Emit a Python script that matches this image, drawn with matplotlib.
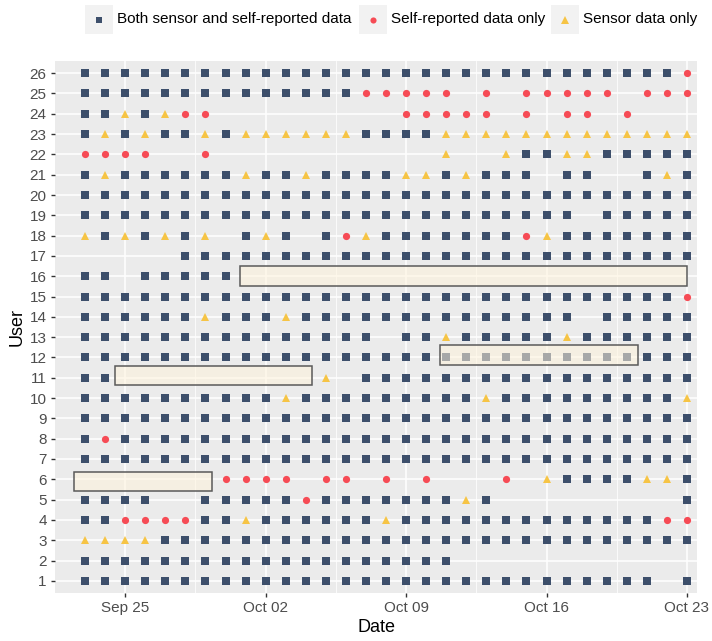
import numpy as np
import matplotlib
matplotlib.use('Agg')
import matplotlib.pyplot as plt
import matplotlib.dates as mdates
from matplotlib.patches import Rectangle

plt.rcParams['font.family'] = ['Liberation Sans', 'DejaVu Sans']

# ── Data ──────────────────────────────────────────────────────────────────────
START = np.datetime64('2017-09-23')
N_DAYS = 31
USERS = list(range(1, 27))

# one string per user (1..26), one character per day from Sep 23 to Oct 23
# S = both sensor and self-reported, R = self-reported only, T = sensor only
DAILY_STATUS = [
    'SSSSSSSSSSSSSSSSSSSSSSSSSSSSS.S',  # 1
    'SSSSSSSSSSSSSSSSSSS............',  # 2
    'TTTTSSSSSSSSSSSSSSSSSSSSSSSSSSS',  # 3
    'SSRRRRSSTSSSSSSTSSSSSSSSSSSSSRR',  # 4
    'SSSS..SSSSSRSSSSSSSTS.........S',  # 5
    '.......RRRR.RR.R.R...R.TSSSSTTS',  # 6
    'SSSSSSSSSSSSSSSSSSSSSSSSSSSSSSS',  # 7
    'SRSSSSSSSSSSSSSSSSSSSSSSSSSSSSS',  # 8
    'SSSSSSSSSSSSSSSSSSSSSSSSSSSSSSS',  # 9
    'SSSSSSSSSSTSSSSSSSSSTSSSSSSSSST',  # 10
    'SS..........T.SSSSSSSSSSSSSSSSS',  # 11
    'SSSSSSSSSSSSSSSSSSSSSSSSSSSSSSS',  # 12
    'SSSSSSSSSSSSSSS.SSTSSSSSTSSSSSS',  # 13
    'SSSSSSTSSSTSSSSSSSSSSSSSS.SSSSS',  # 14
    'SSSSSSSSSSSSSSSSSSSSSSSSSSSSSSR',  # 15
    'SS.SSSSS.......................',  # 16
    '.....SSSSSSSSSSSSSSSSSSSSSSSSSS',  # 17
    'TSTSTST.STS.SRTSSSSSSSRTSSSSSSS',  # 18
    'SSSSSSSSSSSSSSSSSSSSSSSSS.SSSSS',  # 19
    'SSSSSSSSSSSSSSSSSSSSSSSSSSSSSSS',  # 20
    'STSSSSSSTSSTSSSSTTSTSSS.SS..STS',  # 21
    'RRRR..R...........T..TSSTTSSSSS',  # 22
    'STSTSSTSTTTTTTSSSSTTTTTTTTTTTTT',  # 23
    'SSTSTRR.........RRRRR.R.RR.R...',  # 24
    'SSSSSSSSSSSSSSRRRRR.R.RRRRR.RRR',  # 25
    'SSSSSSSSSSSSSSSSSSSSSSSSSSSSSSR',  # 26
]

# highlighted periods (day offsets from START, user-axis extent)
BOX_START_DAY = [-0.55, 1.48, 17.69, 7.72]
BOX_END_DAY = [6.33, 11.30, 27.55, 30.00]
BOX_LOW = [5.41, 10.62, 11.62, 15.50]
BOX_HIGH = [6.36, 11.60, 12.60, 16.50]

LABELS = {
    'S': 'Both sensor and self-reported data',
    'R': 'Self-reported data only',
    'T': 'Sensor data only',
}

# ── Styles ────────────────────────────────────────────────────────────────────
STYLE = {
    'S': dict(marker='s', color='#3D4F6B', ms=5.4),
    'R': dict(marker='o', color='#F64B55', ms=5.2),
    'T': dict(marker='^', color='#F6C445', ms=6.2),
}
PANEL_BG = '#EBEBEB'
TEXT_DARK = '#4D4D4D'

dates = START + np.arange(N_DAYS).astype('timedelta64[D]')
x0 = mdates.date2num(START)

fig = plt.figure(figsize=(7.12, 6.41), dpi=100)
ax = fig.add_axes([55 / 712, 1 - 593 / 641, 642 / 712, 532 / 641])
ax.set_facecolor(PANEL_BG)
for spine in ax.spines.values():
    spine.set_visible(False)

for code, st in STYLE.items():
    xs, ys = [], []
    for user, row in zip(USERS, DAILY_STATUS):
        for d, c in zip(dates, row):
            if c == code:
                xs.append(d)
                ys.append(user)
    ax.plot(xs, ys, linestyle='none', marker=st['marker'], color=st['color'],
            markersize=st['ms'], markeredgewidth=0, zorder=3)

for s, e, lo, hi in zip(BOX_START_DAY, BOX_END_DAY, BOX_LOW, BOX_HIGH):
    ax.add_patch(Rectangle((x0 + s, lo), e - s, hi - lo, facecolor='#FFF3DC',
                           alpha=0.55, edgecolor='none', zorder=4))
    ax.add_patch(Rectangle((x0 + s, lo), e - s, hi - lo, facecolor='none',
                           edgecolor='#5A5A5A', linewidth=1.1, zorder=5))

# axes, ticks and grid
ax.set_xlim(x0 - 1.5, x0 + 30.5)
ax.set_ylim(0.4, 26.6)
major_days = np.arange(2, N_DAYS, 7)
minor_days = major_days[:-1] + 3.5
ax.set_xticks([x0 + d for d in major_days])
ax.set_xticklabels([mdates.num2date(x0 + d).strftime('%b %d') for d in major_days])
ax.set_xticks([x0 + d for d in minor_days], minor=True)
ax.set_yticks(USERS)
ax.set_yticklabels([str(u) for u in USERS])

ax.grid(which='major', color='white', linewidth=1.1, zorder=0)
ax.grid(which='minor', axis='x', color='white', linewidth=0.55, zorder=0)
ax.set_axisbelow(True)
ax.tick_params(which='major', length=3, width=1.0, color='#333333',
               labelsize=11, labelcolor=TEXT_DARK, pad=3)
ax.tick_params(which='minor', length=0)

ax.set_xlabel('Date', fontsize=13, color='black', labelpad=3)
ax.set_ylabel('User', fontsize=13, color='black', labelpad=3)

# ── Legend on top ─────────────────────────────────────────────────────────────
lg = fig.add_axes([0, 0, 1, 1], zorder=10)
lg.set_xlim(0, 712)
lg.set_ylim(641, 0)
lg.axis('off')
key_left = {'S': 85, 'R': 359, 'T': 551}
for code, kx in key_left.items():
    st = STYLE[code]
    lg.add_patch(Rectangle((kx, 5), 28, 29, facecolor='#F2F2F2', edgecolor='none'))
    lg.plot([kx + 14], [19.5], linestyle='none', marker=st['marker'],
            color=st['color'], markersize=st['ms'] * 0.85, markeredgewidth=0)
    lg.text(kx + 32, 19.5, LABELS[code], fontsize=11, color='black',
            ha='left', va='center')

fig.savefig('out.png', dpi=100, facecolor='white')
plt.close(fig)
